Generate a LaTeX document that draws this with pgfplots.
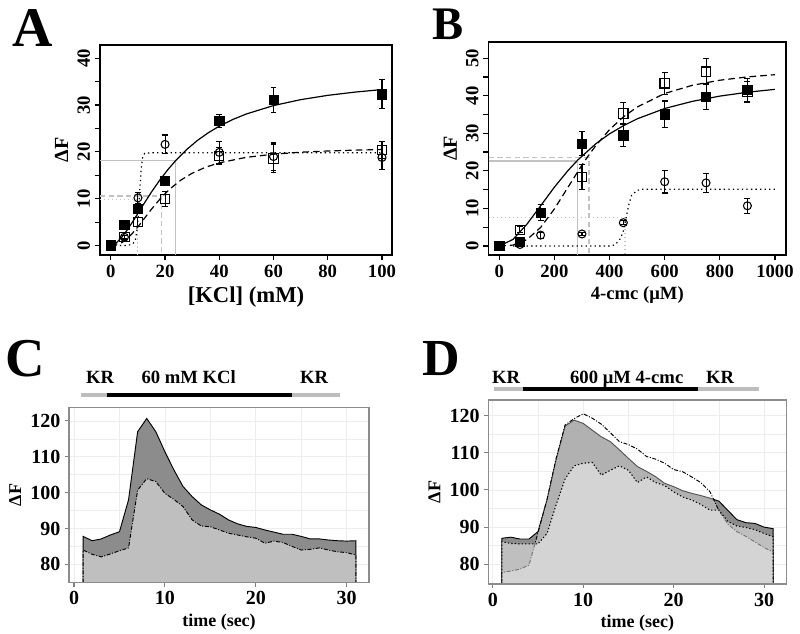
\documentclass[border=0pt]{standalone}
\usepackage{fontspec}
\setmainfont{Liberation Serif}
\usepackage{pgfplots}
\pgfplotsset{compat=1.18}

\definecolor{refgray}{gray}{0.76}
\definecolor{darkfill}{gray}{0.55}
\definecolor{bargray}{gray}{0.74}
\definecolor{gridgray}{gray}{0.93}
\definecolor{framegray}{gray}{0.55}

\pgfplotsset{
  rpanel/.style={
    scale only axis, anchor=south west,
    axis line style={line width=1.1pt},
    tick align=outside, major tick length=4pt, minor tick length=4pt,
    every tick/.style={black, line width=0.9pt},
    xtick pos=bottom, ytick pos=left,
    /pgf/number format/assume math mode=true,
    /pgf/number format/1000 sep={},
    ticklabel style={font=\bfseries\fontsize{14}{14}\selectfont},
    yticklabel style={rotate=90, anchor=south},
    ylabel={ΔF}, ylabel style={font=\bfseries\fontsize{15}{15}\selectfont},
  },
  fsq/.style={only marks, mark=square*, mark size=3.5pt, mark options={fill=black, draw=black, solid}},
  osq/.style={only marks, mark=square, mark size=3.5pt, mark options={draw=black, line width=0.8pt, solid}},
  ocirc/.style={only marks, mark=o, mark size=3pt, mark options={draw=black, line width=0.8pt, solid}},
  ebars/.style={error bars/.cd, y dir=both, y explicit,
    error bar style={line width=0.8pt, black, solid},
    error mark options={rotate=90, mark size=2.2pt, line width=0.8pt, black}},
  fitsolid/.style={black, line width=0.9pt},
  fitdash/.style={black, line width=0.9pt, dash pattern=on 5pt off 3pt},
  fitdot/.style={black, line width=0.9pt, dash pattern=on 1pt off 2.4pt},
  gpanel/.style={
    scale only axis, anchor=south west,
    axis line style={framegray, line width=0.8pt},
    grid=both, major grid style={gridgray, line width=0.6pt},
    minor grid style={gridgray, line width=0.4pt},
    tick align=outside, major tick length=3pt, minor tick length=0pt,
    every tick/.style={gray, line width=0.8pt},
    xtick pos=bottom, ytick pos=left,
    xtick={0,10,20,30}, minor xtick={5,15,25},
    ytick={80,90,...,120}, minor ytick={75,85,95,105,115},
    /pgf/number format/assume math mode=true,
    ticklabel style={font=\bfseries\fontsize{15}{15}\selectfont},
    xlabel={time (sec)}, xlabel style={font=\bfseries\fontsize{13.5}{14}\selectfont},
    ylabel={ΔF}, ylabel style={font=\bfseries\fontsize{13.5}{14}\selectfont},
    after end axis/.code={\draw[framegray, line width=0.8pt] (rel axis cs:0,0) rectangle (rel axis cs:1,1);},
  },
}

\begin{document}
\begin{tikzpicture}
\path[use as bounding box] (0pt,0pt) rectangle (600pt,-474.75pt);

% ---------------- A
\begin{axis}[rpanel, at={(75pt,-191.25pt)}, width=219pt, height=157.5pt,
  xmin=-4, xmax=103.7, ymin=-2, ymax=42.8,
  xtick={0,20,...,100}, ytick={0,10,...,40}, minor ytick={5,15,25,35},
  xlabel={[KCl] (mM)}, xlabel style={font=\bfseries\fontsize{17}{17}\selectfont}]
% EC50 guides
\addplot[refgray, line width=1pt] coordinates {(-4,18.2) (23.9,18.2) (23.9,-2)};
\addplot[refgray, line width=1pt, dash pattern=on 4pt off 2.5pt] coordinates {(-4,10.6) (18.7,10.6) (18.7,-2)};
\addplot[refgray, line width=1pt, dash pattern=on 1pt off 2pt] coordinates {(-4,9.8) (9.8,9.8) (9.8,-2)};
% fits
\addplot[fitsolid] coordinates {(0,0) (2,0.58) (4,1.77) (6,3.31) (8,5.06) (10,6.89) (12,8.75) (15,11.45) (18,13.94) (21,16.19) (24,18.2) (28,20.52) (32,22.47) (36,24.1) (40,25.49) (45,26.92) (50,28.09) (60,29.88) (70,31.14) (80,32.06) (90,32.75) (100,33.29)};
\addplot[fitdash] coordinates {(0,0) (4,0.62) (6,1.48) (8,2.64) (10,4.03) (12,5.53) (15,7.78) (18,9.86) (19,10.5) (22,12.2) (26,14.05) (30,15.45) (35,16.74) (40,17.66) (50,18.84) (60,19.5) (70,19.93) (80,20.19) (90,20.37) (100,20.5)};
\addplot[fitdot] coordinates {(0,0) (6,0.05) (8,0.3) (9,1) (9.8,4) (10.3,8) (10.8,13) (11.3,17) (11.8,19) (12.5,19.7) (15,19.8) (100,19.8)};
% data
\addplot[fsq, ebars] coordinates {(0,0) +- (0,0.3) (5,4.4) +- (0,0.5) (10,7.8) +- (0,0.6) (20,13.9) +- (0,0.8) (40,26.6) +- (0,1.3) (60,31.1) +- (0,2.7) (100,32.3) +- (0,3.1)};
\addplot[osq, ebars] coordinates {(0,0) +- (0,0.2) (5,1.8) +- (0,0.3) (10,5.1) +- (0,1.0) (20,9.9) +- (0,1.6) (40,19.1) +- (0,1.8) (60,18.6) +- (0,2.9) (100,20.4) +- (0,1.9)};
\addplot[ocirc, ebars] coordinates {(0,0) +- (0,0.2) (5,1.8) +- (0,0.4) (10,10.2) +- (0,1.2) (20,21.6) +- (0,2.0) (40,19.9) +- (0,2.4) (60,19.0) +- (0,2.9) (100,18.8) +- (0,2.5)};
\end{axis}

% ---------------- B
\begin{axis}[rpanel, at={(366.5pt,-191.25pt)}, width=223pt, height=159.75pt,
  xmin=-38.4, xmax=1040, ymin=-2.4, ymax=54.3,
  xtick={0,200,...,1000}, ytick={0,10,...,50}, minor ytick={5,15,...,45},
  xlabel={4-cmc (μM)}, xlabel style={font=\bfseries\fontsize{14}{14}\selectfont}]
\addplot[refgray, line width=1pt] coordinates {(-38.4,22.6) (284,22.6) (284,-2.4)};
\addplot[refgray, line width=1pt, dash pattern=on 4pt off 2.5pt] coordinates {(-38.4,23.6) (326,23.6) (326,-2.4)};
\addplot[refgray, line width=1pt, dash pattern=on 1pt off 2pt] coordinates {(-38.4,7.6) (456,7.6) (456,-2.4)};
\addplot[fitsolid] coordinates {(0,0) (50,1.76) (100,5.77) (150,10.7) (200,15.66) (250,20.14) (285,22.9) (350,27.2) (400,29.86) (450,32.0) (500,33.84) (600,36.6) (700,38.5) (800,39.9) (900,40.93) (1000,41.7)};
\addplot[fitdash] coordinates {(0,0) (50,0.24) (100,1.68) (150,4.94) (200,9.87) (250,15.72) (300,21.54) (320,23.7) (350,26.7) (400,30.98) (450,34.36) (500,36.98) (600,40.6) (700,42.77) (800,44.13) (900,45.01) (1000,45.6)};
\addplot[fitdot] coordinates {(50,0) (400,0) (420,0.3) (440,2) (450,4) (460,7.5) (470,11) (480,13.5) (500,14.8) (520,15.1) (1000,15.1)};
\addplot[fsq, ebars] coordinates {(0,0) +- (0,0.3) (75,1.2) +- (0,0.5) (150,8.9) +- (0,2.2) (300,27.3) +- (0,3.3) (450,29.5) +- (0,3.0) (600,35.1) +- (0,3.5) (750,39.8) +- (0,3.4) (900,41.5) +- (0,3.1)};
\addplot[osq, ebars] coordinates {(0,0) +- (0,0.2) (75,4.3) +- (0,0.8) (300,18.3) +- (0,3.3) (450,35.3) +- (0,3.0) (600,43.3) +- (0,3.0) (750,46.4) +- (0,3.5) (900,41.0) +- (0,2.8)};
\addplot[ocirc, ebars] coordinates {(75,0.4) +- (0,0.3) (150,2.9) +- (0,0.8) (300,3.2) +- (0,0.5) (450,6.2) +- (0,0.6) (600,17.1) +- (0,3.0) (750,16.8) +- (0,2.6) (900,10.7) +- (0,2.0)};
\end{axis}

% ---------------- C
\begin{axis}[gpanel, at={(51.75pt,-437pt)}, width=225pt, height=131.5pt,
  xmin=-0.55, xmax=32.45, ymin=74.9, ymax=123.8]
\addplot[fill=darkfill, draw=black, line width=0.7pt] coordinates {(1,74.9) (1,87.8) (2,86.6) (3,87.1) (4,88.2) (5,89.1) (6,98.0) (7,117.0) (8,120.7) (9,117.0) (10,111.4) (11,106.3) (12,101.7) (13,98.9) (14,96.6) (15,95.2) (16,94.0) (17,92.4) (18,91.3) (19,90.6) (20,90.3) (21,89.6) (22,89.0) (23,88.4) (24,88.4) (25,87.8) (26,87.1) (27,87.1) (28,86.8) (29,86.6) (30,86.5) (31,86.6) (31,74.9)};
\addplot[fill=white, fill opacity=0.45, draw=black, line width=0.7pt, dash pattern=on 3pt off 1.2pt on 0.8pt off 1.2pt] coordinates {(1,74.9) (1,84.0) (2,82.8) (3,82.1) (4,82.9) (5,83.8) (6,84.6) (7,100.7) (8,103.9) (9,103.1) (10,99.8) (11,98.1) (12,96.1) (13,92.4) (14,90.7) (15,90.5) (16,89.6) (17,88.7) (18,88.2) (19,87.7) (20,87.3) (21,85.9) (22,86.5) (23,86.1) (24,85.0) (25,84.0) (26,84.2) (27,84.6) (28,84.0) (29,83.5) (30,83.3) (31,82.6) (31,74.9)};
\end{axis}

% ---------------- D
\begin{axis}[gpanel, at={(366.2pt,-438pt)}, width=223.8pt, height=138pt,
  xmin=-0.5, xmax=32.5, ymin=74.7, ymax=124.2]
\addplot[fill=darkfill, draw=black, line width=0.7pt] coordinates {(1,74.7) (1,87.0) (2,87.3) (3,86.8) (4,86.8) (5,88.8) (6,97.3) (7,108.1) (8,117.2) (9,118.8) (10,117.9) (11,116.1) (12,114.3) (13,113.0) (14,110.8) (15,108.5) (16,106.3) (17,105.0) (18,103.6) (19,101.8) (20,100.9) (21,99.8) (22,99.1) (23,98.5) (24,97.8) (25,97.0) (26,94.5) (27,92.0) (28,91.2) (29,91.0) (30,90.0) (31,89.6) (31,74.7)};
\addplot[fill=white, fill opacity=0.33, draw=black, line width=0.7pt, dash pattern=on 3pt off 1.2pt on 0.8pt off 1.2pt] coordinates {(1,74.7) (1,77.8) (2,78.2) (3,78.7) (4,79.8) (5,88.5) (6,97.5) (7,108.5) (8,117.5) (9,119.2) (10,120.5) (11,119.3) (12,117.7) (13,115.4) (14,113.0) (15,112.2) (16,111.0) (17,109.0) (18,108.3) (19,107.2) (20,105.5) (21,104.9) (22,103.5) (23,102.0) (24,99.6) (25,94.5) (26,90.8) (27,88.8) (28,87.5) (29,86.0) (30,84.5) (31,83.3) (31,74.7)};
\addplot[fill=white, fill opacity=0.45, draw=black, line width=0.8pt, dash pattern=on 1pt off 1.6pt] coordinates {(1,74.7) (1,86.1) (2,85.6) (3,85.5) (4,85.5) (5,85.5) (6,88.3) (7,96.0) (8,103.0) (9,106.5) (10,107.2) (11,107.4) (12,104.0) (13,105.3) (14,106.5) (15,105.3) (16,102.0) (17,103.5) (18,102.0) (19,101.2) (20,99.5) (21,98.1) (22,97.3) (23,96.1) (24,94.6) (25,94.6) (26,91.5) (27,90.3) (28,89.9) (29,89.3) (30,88.3) (31,87.4) (31,74.7)};
\end{axis}

% ---------------- panel letters and treatment bars (pixel units)
\begin{scope}[x=0.75pt, y=-0.75pt]
\node[anchor=base, inner sep=0, font=\bfseries\fontsize{42}{42}\selectfont] at (32.5,46.5) {A};
\node[anchor=base, inner sep=0, font=\bfseries\fontsize{35}{35}\selectfont] at (448.5,39) {B};
\node[anchor=base, inner sep=0, font=\bfseries\fontsize{41}{41}\selectfont] at (25,376) {C};
\node[anchor=base, inner sep=0, font=\bfseries\fontsize{39}{39}\selectfont] at (441.5,375) {D};
% C
\draw[bargray, line width=3pt] (80.7,394.7) -- (106.7,394.7);
\draw[black, line width=3pt] (106.7,394.7) -- (292,394.7);
\draw[bargray, line width=3pt] (292,394.7) -- (340,394.7);
\node[anchor=base, font=\bfseries\fontsize{14}{14}\selectfont] at (100,383.3) {KR};
\node[anchor=base, font=\bfseries\fontsize{14}{14}\selectfont] at (188.7,383.3) {60 mM KCl};
\node[anchor=base, font=\bfseries\fontsize{14}{14}\selectfont] at (314,383.3) {KR};
% D
\draw[bargray, line width=3pt] (494.3,389) -- (522.7,389);
\draw[black, line width=3pt] (522.7,389) -- (697.7,389);
\draw[bargray, line width=3pt] (697.7,389) -- (759,389);
\node[anchor=base, font=\bfseries\fontsize{14}{14}\selectfont] at (506,383.3) {KR};
\node[anchor=base, font=\bfseries\fontsize{14}{14}\selectfont] at (626.7,383.3) {600 μM 4-cmc};
\node[anchor=base, font=\bfseries\fontsize{14}{14}\selectfont] at (720,383.3) {KR};
\end{scope}
\end{tikzpicture}
\end{document}
